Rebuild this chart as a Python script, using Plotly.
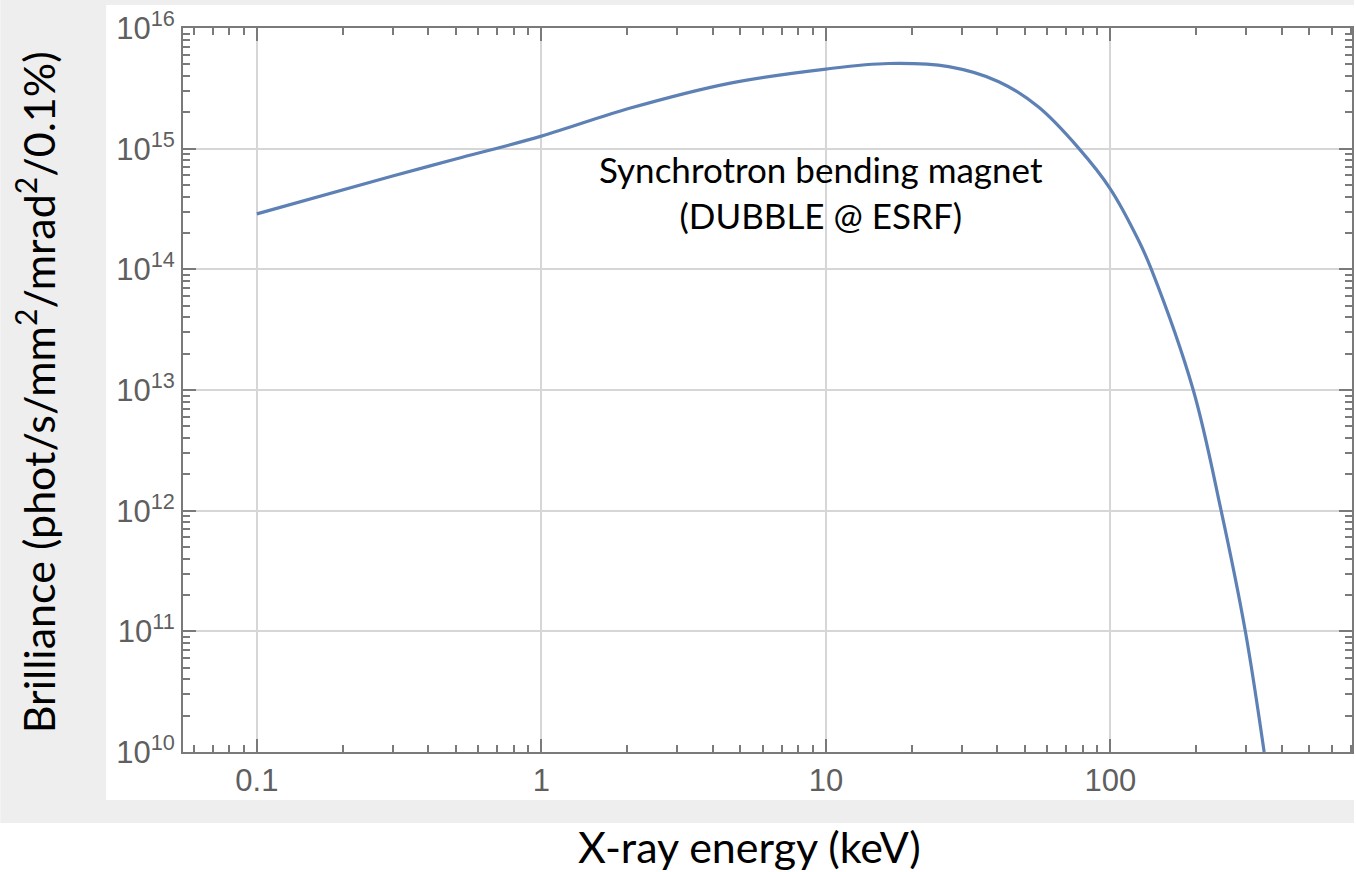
import plotly.graph_objects as go

# Data
energy_keV = [0.1, 0.3, 0.5, 1, 2.04, 4.57, 10, 16.6, 27.0, 40.5, 55.9, 77.3, 100, 125.4, 139.3, 195.5, 245, 298, 347]
brilliance = [2.88e14, 5.94e14, 8.2e14, 1.27e15, 2.16e15, 3.48e15, 4.57e15, 5.08e15, 4.78e15, 3.59e15,
              2.21e15, 1.01e15, 4.63e14, 1.75e14, 1.0e14, 1.0e13, 1.0e12, 1.0e11, 1.0e10]

x_tick_vals = [0.1, 1, 10, 100]
x_tick_text = ["0.1", "1", "10", "100"]
y_exponents = [10, 11, 12, 13, 14, 15, 16]
y_tick_vals = [10.0 ** e for e in y_exponents]
y_tick_text = ["10<sup>%d</sup>" % e for e in y_exponents]

x_minor = [m * 10.0 ** d for d in (-2, -1, 0, 1, 2) for m in range(2, 10)]
x_minor = [v for v in x_minor if 0.055 < v < 706]
y_minor = [m * 10.0 ** d for d in range(10, 16) for m in range(2, 10)]

W, H = 1356, 872
L, R, T, B = 183, 1354, 28, 752
pw, ph = R - L, B - T

def px(x):
    return (x - L) / pw

def py(y):
    return (B - y) / ph

fig = go.Figure()
fig.add_trace(go.Scatter(
    x=energy_keV, y=brilliance, mode="lines",
    line=dict(color="#5e81b5", width=3.2, shape="spline", smoothing=1.0),
    hoverinfo="skip", showlegend=False))

frame = "#7a7a7a"
tickfont = dict(family="Liberation Sans, Arial, sans-serif", size=31, color="#5f5f5f")
fig.update_xaxes(
    type="log", range=[-1.2596, 2.8491],
    tickmode="array", tickvals=x_tick_vals, ticktext=x_tick_text,
    ticks="inside", ticklen=13, tickwidth=1.5, tickcolor=frame,
    showline=True, linecolor=frame, linewidth=2, mirror="allticks",
    showgrid=True, gridcolor="#d6d6d6", gridwidth=1.5,
    zeroline=False, tickfont=tickfont,
    minor=dict(tickmode="array", tickvals=x_minor, ticks="inside", ticklen=7,
               tickwidth=1.5, tickcolor=frame, showgrid=False),
)
fig.update_yaxes(
    type="log", range=[10, 16],
    tickmode="array", tickvals=y_tick_vals, ticktext=y_tick_text,
    ticks="inside", ticklen=13, tickwidth=1.5, tickcolor=frame,
    showline=True, linecolor=frame, linewidth=2, mirror="allticks",
    showgrid=True, gridcolor="#d6d6d6", gridwidth=1.5,
    zeroline=False, tickfont=tickfont,
    minor=dict(tickmode="array", tickvals=y_minor, ticks="inside", ticklen=7,
               tickwidth=1.5, tickcolor=frame, showgrid=False),
)

# slide background (grey) and the white picture area
fig.add_shape(type="rect", xref="paper", yref="paper",
              x0=px(0), x1=px(W), y0=py(823), y1=py(0),
              fillcolor="#efeeee", line=dict(width=0), layer="below")
fig.add_shape(type="rect", xref="paper", yref="paper",
              x0=px(106), x1=px(W), y0=py(800), y1=py(5),
              fillcolor="#ffffff", line=dict(width=0), layer="below")

fig.add_annotation(xref="paper", yref="paper", x=px(822), y=py(192),
                   text="Synchrotron bending magnet<br>(DUBBLE @ ESRF)",
                   showarrow=False, align="center", xanchor="center", yanchor="middle",
                   font=dict(family="Lato, Carlito, sans-serif", size=35, color="#000000"))
fig.add_annotation(xref="paper", yref="paper", x=px(36), y=py(392),
                   text="Brilliance (phot/s/mm<sup>2</sup>/mrad<sup>2</sup>/0.1%)",
                   textangle=-90, showarrow=False, xanchor="center", yanchor="middle",
                   font=dict(family="Lato, Carlito, sans-serif", size=43, color="#000000"))
fig.add_annotation(xref="paper", yref="paper", x=px(750), y=py(846),
                   text="X-ray energy (keV)",
                   showarrow=False, xanchor="center", yanchor="middle",
                   font=dict(family="Lato, Carlito, sans-serif", size=43, color="#000000"))

fig.update_layout(
    width=W, height=H, autosize=False,
    margin=dict(l=L, r=W - R, t=T, b=H - B, pad=0),
    paper_bgcolor="#ffffff", plot_bgcolor="#ffffff",
    showlegend=False,
)
fig.write_html("out.html", config={"displayModeBar": False},
               post_script="document.body.style.margin='0px';document.body.style.overflow='hidden';")
